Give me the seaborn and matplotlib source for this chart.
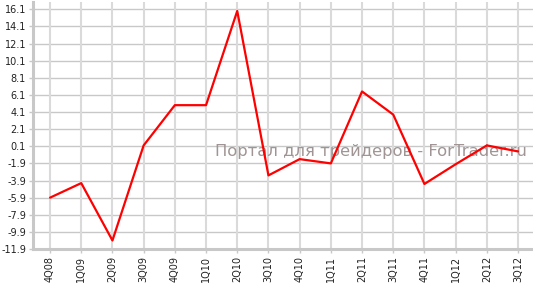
import matplotlib
matplotlib.use("Agg")
import matplotlib.pyplot as plt
import seaborn as sns
import pandas as pd
import numpy as np

quarters = ['4Q08', '1Q09', '2Q09', '3Q09', '4Q09', '1Q10', '2Q10', '3Q10',
            '4Q10', '1Q11', '2Q11', '3Q11', '4Q11', '1Q12', '2Q12', '3Q12']
values = [-5.9, -4.2, -10.9, 0.2, 4.9, 4.9, 15.9, -3.3,
          -1.4, -1.9, 6.5, 3.8, -4.3, -2.0, 0.2, -0.5]
y_ticks = [16.1, 14.1, 12.1, 10.1, 8.1, 6.1, 4.1, 2.1, 0.1,
           -1.9, -3.9, -5.9, -7.9, -9.9, -11.9]
watermark = "Портал для трейдеров - ForTrader.ru"

sns.set_style("white")
plt.rcParams['font.family'] = ['DejaVu Sans']

df = pd.DataFrame({"pos": np.arange(len(quarters)), "value": values})

fig = plt.figure(figsize=(5.33, 2.83), dpi=100)
ax = fig.add_axes([0.062, 0.12, 0.938, 0.873])

# grid
for t in y_ticks:
    ax.axhline(t, color='#c8c8c8', lw=1.0, zorder=0)
for i in range(len(quarters)):
    ax.axvline(i, color='#dadada', lw=1.5, zorder=0)

sns.lineplot(data=df, x="pos", y="value", color='#ff0000', lw=1.6, ax=ax, zorder=3)

ax.set_xlim(-0.545, 15.48)
ax.set_ylim(-11.9, 16.95)
ax.set_yticks(y_ticks)
ax.set_yticklabels([f"{t:.1f}" for t in y_ticks])
ax.set_xticks(range(len(quarters)))
ax.set_xticklabels(quarters, rotation=90)
ax.set_xlabel("")
ax.set_ylabel("")

for s in ['top', 'right']:
    ax.spines[s].set_visible(False)
for s in ['left', 'bottom']:
    ax.spines[s].set_color('#c8c8c8')
    ax.spines[s].set_linewidth(2.2)

ax.tick_params(axis='both', which='both', length=3, width=1, color='#c8c8c8',
               labelsize=7, labelcolor='#222222', pad=2, direction='out',
               left=True, bottom=True)

ax.text(10.29, -0.55, watermark, color='#a09494', fontsize=11.8, ha='center',
        va='center', zorder=2)

fig.savefig("out.png", dpi=100)
